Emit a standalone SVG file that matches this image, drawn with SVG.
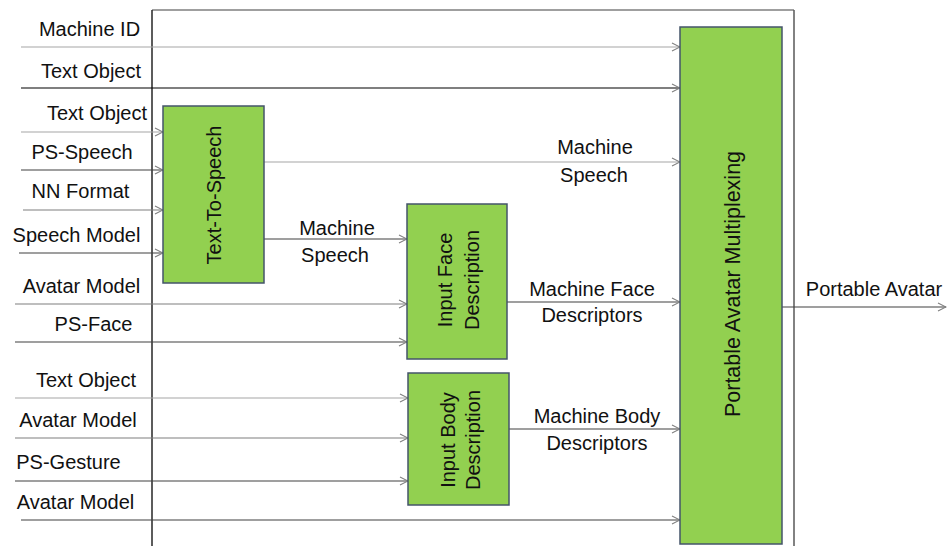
<svg xmlns="http://www.w3.org/2000/svg" width="947" height="546" viewBox="0 0 947 546">
  <style>
    text { font-family: "Liberation Sans", Arial, sans-serif; font-size: 20px; fill: #111; }
    .mid { text-anchor: middle; }
    .big { font-size: 21.5px; }
    .box { fill: #92D050; stroke: #44546A; stroke-width: 1.5; }
    .wire { fill: none; stroke-width: 1.2; marker-end: url(#chev); }
    .g1 { stroke: #A6A6A6; }
    .g2 { stroke: #7F7F7F; }
    .g3 { stroke: #404040; }
    .k { stroke: #000; }
  </style>
  <defs>
    <marker id="chev" viewBox="0 0 10 10" refX="9" refY="5" markerWidth="10" markerHeight="10" markerUnits="userSpaceOnUse" orient="auto">
      <path d="M1,1 L9,5 L1,9" fill="none" stroke="#7F7F7F" stroke-width="1.1"/>
    </marker>
  </defs>

  <!-- system frame -->
  <g id="frame" fill="none">
    <line x1="152" y1="10" x2="794" y2="10" stroke="#7F7F7F" stroke-width="1.5"/>
    <line x1="152" y1="10" x2="152" y2="546" stroke="#262626" stroke-width="1.5"/>
    <line x1="794" y1="10" x2="794" y2="546" stroke="#595959" stroke-width="1.5"/>
  </g>

  <!-- connectors -->
  <g id="connectors">
    <line class="wire g1" x1="21" y1="47" x2="680" y2="47"/>
    <line class="wire k" x1="21" y1="88" x2="680" y2="88"/>
    <line class="wire g1" x1="21" y1="132" x2="163" y2="132"/>
    <line class="wire g3" x1="21" y1="170" x2="163" y2="170"/>
    <line class="wire g2" x1="23" y1="210" x2="163" y2="210"/>
    <line class="wire g3" x1="19" y1="253" x2="163" y2="253"/>
    <line class="wire g2" x1="15" y1="304" x2="407" y2="304"/>
    <line class="wire g3" x1="15" y1="342" x2="407" y2="342"/>
    <line class="wire g1" x1="15" y1="398" x2="408" y2="398"/>
    <line class="wire g2" x1="15" y1="438" x2="408" y2="438"/>
    <line class="wire g3" x1="15" y1="481" x2="408" y2="481"/>
    <line class="wire g3" x1="21" y1="520" x2="680" y2="520"/>
    <line class="wire g1" x1="264" y1="162" x2="680" y2="162"/>
    <line class="wire g3" x1="264" y1="239" x2="407" y2="239"/>
    <line class="wire g3" x1="507" y1="302" x2="680" y2="302"/>
    <line class="wire g3" x1="509" y1="429" x2="680" y2="429"/>
    <line class="wire g3" x1="782" y1="307" x2="946" y2="307"/>
  </g>

  <!-- input labels -->
  <g id="inputs">
    <text class="mid" x="89.5" y="36">Machine ID</text>
    <text class="mid" x="91" y="78">Text Object</text>
    <text class="mid" x="97" y="120">Text Object</text>
    <text class="mid" x="82" y="159">PS-Speech</text>
    <text class="mid" x="80.5" y="198">NN Format</text>
    <text class="mid" x="76.5" y="242">Speech Model</text>
    <text class="mid" x="81.5" y="293">Avatar Model</text>
    <text class="mid" x="93.5" y="331">PS-Face</text>
    <text class="mid" x="86" y="387">Text Object</text>
    <text class="mid" x="78" y="427">Avatar Model</text>
    <text class="mid" x="68.5" y="469">PS-Gesture</text>
    <text class="mid" x="75.5" y="509">Avatar Model</text>
  </g>

  <!-- internal data labels -->
  <g id="data-labels">
    <text class="mid" x="595" y="154">Machine</text>
    <text class="mid" x="594" y="182">Speech</text>
    <text class="mid" x="337" y="235">Machine</text>
    <text class="mid" x="335" y="262">Speech</text>
    <text class="mid" x="592" y="296">Machine Face</text>
    <text class="mid" x="592" y="322">Descriptors</text>
    <text class="mid" x="597" y="423">Machine Body</text>
    <text class="mid" x="597" y="450">Descriptors</text>
    <text class="mid" x="874" y="296">Portable Avatar</text>
  </g>

  <g id="text-to-speech">
    <rect class="box" x="163" y="106" width="101" height="177"/>
    <text class="mid" transform="translate(221,195) rotate(-90)">Text-To-Speech</text>
  </g>

  <g id="input-face-description">
    <rect class="box" x="407" y="204" width="100" height="155"/>
    <text class="mid" transform="translate(452,280) rotate(-90)">Input Face</text>
    <text class="mid" transform="translate(479,280) rotate(-90)">Description</text>
  </g>

  <g id="input-body-description">
    <rect class="box" x="408" y="373" width="101" height="132"/>
    <text class="mid" transform="translate(455,440) rotate(-90)">Input Body</text>
    <text class="mid" transform="translate(480,440) rotate(-90)">Description</text>
  </g>

  <g id="portable-avatar-multiplexing">
    <rect class="box" x="680" y="27" width="102" height="517"/>
    <text class="mid big" transform="translate(740,284) rotate(-90)">Portable Avatar Multiplexing</text>
  </g>
</svg>
